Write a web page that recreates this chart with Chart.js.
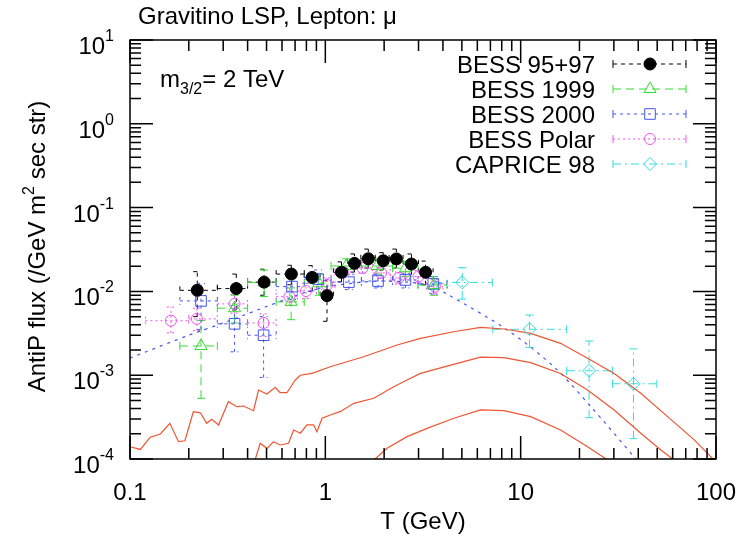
<!DOCTYPE html>
<html>
<head>
<meta charset="utf-8">
<script src="https://cdn.jsdelivr.net/npm/chart.js@4.4.1/dist/chart.umd.min.js"></script>
<style>
    html, body { margin: 0; padding: 0; background: #fff; }
    #plot { display: block; }
</style>
</head>
<body>
<canvas id="plot" width="751" height="537"></canvas>
<script>
// data (T in GeV, flux in /GeV m^2 sec str)
const b9597X   = [0.221, 0.350, 0.486, 0.670, 0.857, 1.02, 1.21, 1.41, 1.66, 1.98, 2.31, 2.76, 3.26];
const b9597Y   = [0.0103, 0.0108, 0.0129, 0.0161, 0.0147, 0.0089, 0.0169, 0.0216, 0.0245, 0.0232, 0.0244, 0.0212, 0.0169];
const b9597XLo = [0.18, 0.28, 0.40, 0.56, 0.78, 0.94, 1.10, 1.30, 1.52, 1.80, 2.12, 2.50, 3.00];
const b9597XHi = [0.28, 0.40, 0.56, 0.78, 0.94, 1.10, 1.30, 1.52, 1.80, 2.12, 2.50, 3.00, 3.56];
const b9597YLo = [0.0050, 0.0060, 0.0090, 0.0120, 0.0100, 0.0044, 0.0130, 0.0170, 0.0190, 0.0180, 0.0190, 0.0160, 0.0120];
const b9597YHi = [0.0172, 0.0161, 0.0184, 0.0205, 0.0203, 0.0134, 0.0225, 0.0280, 0.0320, 0.0290, 0.0320, 0.0280, 0.0230];

const b99X   = [0.231, 0.343, 0.486, 0.668, 0.925, 1.28, 1.84, 2.57, 3.59];
const b99Y   = [0.00223, 0.0063, 0.0128, 0.0075, 0.0125, 0.0201, 0.0201, 0.0189, 0.0119];
const b99XLo = [0.18, 0.28, 0.40, 0.56, 0.78, 1.07, 1.53, 2.21, 2.98];
const b99XHi = [0.28, 0.40, 0.56, 0.78, 1.07, 1.53, 2.21, 2.98, 4.20];
const b99YLo = [0.00053, 0.0042, 0.0087, 0.0046, 0.0090, 0.0160, 0.0160, 0.0150, 0.0090];
const b99YHi = [0.0045, 0.0090, 0.0180, 0.0110, 0.0160, 0.0245, 0.0245, 0.0230, 0.0150];

const b00X   = [0.231, 0.343, 0.483, 0.675, 0.918, 1.32, 1.86, 2.57, 3.57];
const b00Y   = [0.0077, 0.0041, 0.0030, 0.0114, 0.0140, 0.0129, 0.0133, 0.0137, 0.0123];
const b00XLo = [0.18, 0.28, 0.40, 0.56, 0.78, 1.07, 1.53, 2.21, 2.98];
const b00XHi = [0.28, 0.40, 0.56, 0.78, 1.07, 1.53, 2.21, 2.98, 4.20];
const b00YLo = [0.0035, 0.0019, 0.00094, 0.0080, 0.0105, 0.0105, 0.0110, 0.0110, 0.0095];
const b00YHi = [0.0125, 0.0068, 0.0050, 0.0150, 0.0180, 0.0160, 0.0160, 0.0165, 0.0150];

const polX   = [0.162, 0.220, 0.343, 0.483, 0.655, 0.796, 1.02, 1.23, 1.55, 1.93, 2.38, 3.00, 3.64];
const polY   = [0.00447, 0.0047, 0.0071, 0.0042, 0.00865, 0.0101, 0.0119, 0.0169, 0.0190, 0.0166, 0.0145, 0.0151, 0.0114];
const polXLo = [0.12, 0.20, 0.28, 0.40, 0.56, 0.72, 0.90, 1.12, 1.40, 1.75, 2.15, 2.70, 3.30];
const polXHi = [0.20, 0.28, 0.40, 0.56, 0.72, 0.90, 1.12, 1.40, 1.75, 2.15, 2.70, 3.30, 4.00];
const polYLo = [0.0032, 0.0034, 0.0055, 0.0029, 0.0068, 0.0082, 0.0098, 0.0145, 0.0165, 0.0142, 0.0122, 0.0126, 0.0092];
const polYHi = [0.0065, 0.0063, 0.0092, 0.0054, 0.0110, 0.0125, 0.0145, 0.0195, 0.0220, 0.0192, 0.0170, 0.0178, 0.0138];

const capX   = [5.02, 11.1, 22.4, 37.8];
const capY   = [0.0128, 0.00353, 0.00113, 0.00079];
const capXLo = [3.6, 7.2, 17.2, 29.5];
const capXHi = [7.16, 17.2, 29.5, 49.8];
const capYLo = [0.0081, 0.00215, 0.000311, 0.000175];
const capYHi = [0.0192, 0.00523, 0.00256, 0.00206];

// background (blue dashed) curve
const bgX = [0.1, 0.2, 0.3, 0.5, 0.65, 0.8, 1.0, 1.5, 2.0, 3.0, 3.6, 4.2, 8.55, 14.8, 22.9, 38.1, 45];
const bgY = [0.0016, 0.0030, 0.0042, 0.0066, 0.0083, 0.0098, 0.0113, 0.0128, 0.0133, 0.0125, 0.0112, 0.0093, 0.00346, 0.00126, 0.00042, 0.000106, 0.000068];

// signal + background curves (red)
const redTopX = [0.1, 0.113, 0.127, 0.143, 0.160, 0.177, 0.191, 0.211, 0.229, 0.247, 0.262, 0.284, 0.319, 0.352, 0.381, 0.429, 0.455, 0.502, 0.554, 0.587, 0.636, 0.702, 0.745, 0.855, 1.06, 1.57, 2.33, 3.07, 4.55, 6.23, 8.21, 11.25, 16.0, 22.0, 30.1, 41.2, 56.5, 77.4, 94.2, 100];
const redTopY = [1.4e-4, 1.3e-4, 1.82e-4, 1.99e-4, 2.67e-4, 1.61e-4, 1.65e-4, 3.66e-4, 3.56e-4, 2.67e-4, 2.98e-4, 2.55e-4, 4.83e-4, 4.21e-4, 4.29e-4, 3.77e-4, 6.65e-4, 5.97e-4, 7.18e-4, 6.18e-4, 6.18e-4, 8.77e-4, 1.0e-3, 1.05e-3, 1.26e-3, 1.66e-3, 2.29e-3, 2.75e-3, 3.30e-3, 3.73e-3, 3.56e-3, 3.16e-3, 2.40e-3, 1.59e-3, 1.05e-3, 6.08e-4, 3.20e-4, 1.69e-4, 1.06e-4, 9.2e-5];
const redMidX = [0.42, 0.437, 0.464, 0.503, 0.543, 0.587, 0.648, 0.688, 0.745, 0.805, 0.871, 0.906, 0.962, 1.06, 1.19, 1.40, 1.77, 2.24, 2.62, 3.07, 4.38, 6.23, 8.21, 11.25, 16.0, 22.0, 30.1, 41.2, 52.2, 61.1, 70.2];
const redMidY = [7.4e-5, 9.8e-5, 1.54e-4, 1.34e-4, 1.61e-4, 1.47e-4, 1.54e-4, 2.22e-4, 2.03e-4, 2.55e-4, 2.55e-4, 2.12e-4, 3.06e-4, 3.35e-4, 3.67e-4, 4.62e-4, 5.30e-4, 7.30e-4, 8.77e-4, 1.05e-3, 1.32e-3, 1.64e-3, 1.62e-3, 1.41e-3, 1.05e-3, 6.65e-4, 3.85e-4, 2.03e-4, 1.28e-4, 9.7e-5, 7.4e-5];
const redBotX = [1.66, 1.77, 2.07, 2.62, 3.32, 4.55, 6.23, 8.21, 11.25, 16.0, 22.0, 27.9, 32.6];
const redBotY = [7.4e-5, 9.7e-5, 1.34e-4, 1.85e-4, 2.32e-4, 3.06e-4, 3.85e-4, 3.77e-4, 3.20e-4, 2.22e-4, 1.40e-4, 9.7e-5, 7.4e-5];

// axis labels
const xTickVals = [0.1, 1, 10, 100];
const xTickText = ['0.1', '1', '10', '100'];
const yTickExp  = [-4, -3, -2, -1, 0, 1];

const FONT = "'Liberation Sans', Arial, Helvetica, sans-serif";
const RED = '#ee5533';

function pts(xs, ys) {
    return xs.map((x, i) => ({ x: x, y: ys[i] }));
}
function errPts(xs, ys, xlo, xhi, ylo, yhi) {
    return xs.map((x, i) => ({ x: x, y: ys[i], xMin: xlo[i], xMax: xhi[i], yMin: ylo[i], yMax: yhi[i] }));
}

// measurement sets, legend order
const series = [
    { label: 'BESS 95+97',  color: '#000000', dash: [4, 4],       style: 'circle',   r: 6,   fill: true,
      data: errPts(b9597X, b9597Y, b9597XLo, b9597XHi, b9597YLo, b9597YHi) },
    { label: 'BESS 1999',   color: '#33dd33', dash: [8, 5],       style: 'triangle', r: 7,   fill: false,
      data: errPts(b99X, b99Y, b99XLo, b99XHi, b99YLo, b99YHi) },
    { label: 'BESS 2000',   color: '#4455ee', dash: [3, 4],       style: 'rect',     r: 7.5, fill: false,
      data: errPts(b00X, b00Y, b00XLo, b00XHi, b00YLo, b00YHi) },
    { label: 'BESS Polar',  color: '#ee55ee', dash: [2, 3],       style: 'circle',   r: 5.5, fill: false,
      data: errPts(polX, polY, polXLo, polXHi, polYLo, polYHi) },
    { label: 'CAPRICE 98',  color: '#33dddd', dash: [8, 4, 2, 4], style: 'rectRot',  r: 6.5, fill: false,
      data: errPts(capX, capY, capXLo, capXHi, capYLo, capYHi) }
];

const datasets = series.map((s, i) => ({
    label: s.label,
    data: s.data,
    showLine: false,
    pointStyle: s.style,
    pointRadius: s.r,
    pointBorderWidth: 1,
    pointBorderColor: s.color,
    pointBackgroundColor: s.fill ? s.color : 'rgba(0,0,0,0)',
    borderColor: s.color,
    errDash: s.dash,
    order: i
}));

[[redTopX, redTopY], [redMidX, redMidY], [redBotX, redBotY]].forEach(c => {
    datasets.push({
        data: pts(c[0], c[1]),
        showLine: true,
        pointRadius: 0,
        borderColor: RED,
        borderWidth: 1.2,
        tension: 0,
        order: 10
    });
});
datasets.push({
    data: pts(bgX, bgY),
    showLine: true,
    pointRadius: 0,
    borderColor: '#4455ee',
    borderWidth: 1.2,
    borderDash: [3, 5],
    tension: 0.3,
    order: 11
});

function drawMarker(ctx, style, x, y, r, color, fill) {
    ctx.beginPath();
    if (style === 'circle') {
        ctx.arc(x, y, r, 0, Math.PI * 2);
    } else if (style === 'triangle') {
        for (let k = 0; k < 3; k++) {
            const a = k * 2 * Math.PI / 3;
            const px = x + Math.sin(a) * r, py = y - Math.cos(a) * r;
            if (k === 0) ctx.moveTo(px, py); else ctx.lineTo(px, py);
        }
        ctx.closePath();
    } else if (style === 'rect') {
        const h = r * Math.SQRT1_2;
        ctx.rect(x - h, y - h, 2 * h, 2 * h);
    } else if (style === 'rectRot') {
        ctx.moveTo(x - r, y); ctx.lineTo(x, y - r); ctx.lineTo(x + r, y); ctx.lineTo(x, y + r);
        ctx.closePath();
    }
    if (fill) { ctx.fillStyle = color; ctx.fill(); }
    ctx.strokeStyle = color;
    ctx.lineWidth = 1;
    ctx.setLineDash([]);
    ctx.stroke();
}

// error bars with end caps, drawn under the markers
const errorBars = {
    id: 'errorBars',
    beforeDatasetsDraw(chart) {
        const ctx = chart.ctx, a = chart.chartArea;
        const xs = chart.scales.x, ys = chart.scales.y;
        ctx.save();
        ctx.beginPath();
        ctx.rect(a.left, a.top, a.right - a.left, a.bottom - a.top);
        ctx.clip();
        chart.data.datasets.forEach(ds => {
            if (!ds.errDash) return;
            ctx.strokeStyle = ds.borderColor;
            ctx.lineWidth = 1;
            ctx.setLineDash(ds.errDash);
            ds.data.forEach(p => {
                const px = xs.getPixelForValue(p.x), py = ys.getPixelForValue(p.y);
                const x0 = xs.getPixelForValue(p.xMin), x1 = xs.getPixelForValue(p.xMax);
                const y0 = ys.getPixelForValue(p.yMin), y1 = ys.getPixelForValue(p.yMax);
                ctx.beginPath();
                ctx.moveTo(x0, py); ctx.lineTo(x1, py);
                ctx.moveTo(x0, py - 4); ctx.lineTo(x0, py + 4);
                ctx.moveTo(x1, py - 4); ctx.lineTo(x1, py + 4);
                ctx.moveTo(px, y0); ctx.lineTo(px, y1);
                ctx.moveTo(px - 4, y0); ctx.lineTo(px + 4, y0);
                ctx.moveTo(px - 4, y1); ctx.lineTo(px + 4, y1);
                ctx.stroke();
            });
        });
        ctx.restore();
    }
};

// gnuplot style frame, inward ticks, labels, key
const decorations = {
    id: 'decorations',
    afterDraw(chart) {
        const ctx = chart.ctx, a = chart.chartArea;
        const xs = chart.scales.x, ys = chart.scales.y;
        ctx.save();
        ctx.setLineDash([]);
        ctx.strokeStyle = '#000';
        ctx.lineWidth = 1.5;
        ctx.strokeRect(a.left, a.top, a.right - a.left, a.bottom - a.top);

        ctx.beginPath();
        for (let e = -1; e <= 2; e++) {
            for (let m = 1; m <= 9; m++) {
                const v = m * Math.pow(10, e);
                if (v > 100.0001) continue;
                const len = m === 1 ? 23 : 11;
                const px = xs.getPixelForValue(v);
                ctx.moveTo(px, a.bottom); ctx.lineTo(px, a.bottom - len);
                ctx.moveTo(px, a.top); ctx.lineTo(px, a.top + len);
            }
        }
        for (let e = -4; e <= 1; e++) {
            for (let m = 1; m <= 9; m++) {
                const v = m * Math.pow(10, e);
                if (v > 10.0001) continue;
                const len = m === 1 ? 23 : 11;
                const py = ys.getPixelForValue(v);
                ctx.moveTo(a.left, py); ctx.lineTo(a.left + len, py);
                ctx.moveTo(a.right, py); ctx.lineTo(a.right - len, py);
            }
        }
        ctx.stroke();

        ctx.fillStyle = '#000';
        ctx.textBaseline = 'alphabetic';

        // x tick labels
        ctx.font = '24px ' + FONT;
        ctx.textAlign = 'center';
        xTickVals.forEach((v, i) => {
            ctx.fillText(xTickText[i], xs.getPixelForValue(v), 500);
        });
        // x title
        ctx.fillText('T (GeV)', (a.left + a.right) / 2, 529);

        // y tick labels 10^n
        yTickExp.forEach(n => {
            const py = ys.getPixelForValue(Math.pow(10, n));
            ctx.font = '16px ' + FONT;
            const ex = String(n);
            const we = ctx.measureText(ex).width;
            ctx.font = '24px ' + FONT;
            const wb = ctx.measureText('10').width;
            const right = 114;
            ctx.textAlign = 'left';
            ctx.fillText('10', right - we - wb, py + 14);
            ctx.font = '16px ' + FONT;
            ctx.fillText(ex, right - we, py + 1);
        });

        // y title with superscript
        const t1 = 'AntiP flux (/GeV m', t2 = '2', t3 = ' sec str)';
        ctx.font = '24px ' + FONT;
        const w1 = ctx.measureText(t1).width, w3 = ctx.measureText(t3).width;
        ctx.font = '16px ' + FONT;
        const w2 = ctx.measureText(t2).width;
        const tot = w1 + w2 + w3;
        ctx.save();
        ctx.translate(45, (a.top + a.bottom) / 2 - 3);
        ctx.rotate(-Math.PI / 2);
        ctx.textAlign = 'left';
        ctx.font = '24px ' + FONT;
        ctx.fillText(t1, -tot / 2, 0);
        ctx.font = '16px ' + FONT;
        ctx.fillText(t2, -tot / 2 + w1, -11);
        ctx.font = '24px ' + FONT;
        ctx.fillText(t3, -tot / 2 + w1 + w2, 0);
        ctx.restore();

        // title
        ctx.font = '24px ' + FONT;
        ctx.textAlign = 'left';
        ctx.fillText('Gravitino LSP, Lepton: \u03bc', 138, 24);

        // m_{3/2} = 2 TeV
        ctx.fillText('m', 160, 87);
        const wm = ctx.measureText('m').width;
        ctx.font = '16px ' + FONT;
        ctx.fillText('3/2', 160 + wm, 94);
        const ws = ctx.measureText('3/2').width;
        ctx.font = '24px ' + FONT;
        ctx.fillText('= 2 TeV', 160 + wm + ws, 87);

        // key
        series.forEach((s, i) => {
            const cy = 64 + i * 25;
            ctx.font = '24px ' + FONT;
            ctx.textAlign = 'right';
            ctx.fillStyle = '#000';
            ctx.fillText(s.label, 595, cy + 8.5);
            ctx.strokeStyle = s.color;
            ctx.lineWidth = 1;
            ctx.setLineDash(s.dash);
            ctx.beginPath();
            ctx.moveTo(613, cy); ctx.lineTo(686, cy);
            ctx.stroke();
            ctx.setLineDash([]);
            ctx.beginPath();
            ctx.moveTo(613, cy - 4); ctx.lineTo(613, cy + 4);
            ctx.moveTo(686, cy - 4); ctx.lineTo(686, cy + 4);
            ctx.stroke();
            drawMarker(ctx, s.style, 650, cy, s.r, s.color, s.fill);
        });
        ctx.restore();
    }
};

const chart = new Chart(document.getElementById('plot').getContext('2d'), {
    type: 'scatter',
    data: { datasets: datasets },
    options: {
        responsive: false,
        devicePixelRatio: 1,
        animation: false,
        layout: { padding: { top: 40, right: 35, left: 0, bottom: 0 } },
        plugins: {
            legend: { display: false },
            tooltip: { enabled: false },
            title: { display: false }
        },
        scales: {
            x: {
                type: 'logarithmic',
                min: 0.1,
                max: 100,
                grid: { display: false },
                border: { display: false },
                ticks: { display: false },
                afterFit: s => { s.height = 78; }
            },
            y: {
                type: 'logarithmic',
                min: 1e-4,
                max: 10,
                grid: { display: false },
                border: { display: false },
                ticks: { display: false },
                afterFit: s => { s.width = 130; }
            }
        }
    },
    plugins: [errorBars, decorations]
});
</script>
</body>
</html>
